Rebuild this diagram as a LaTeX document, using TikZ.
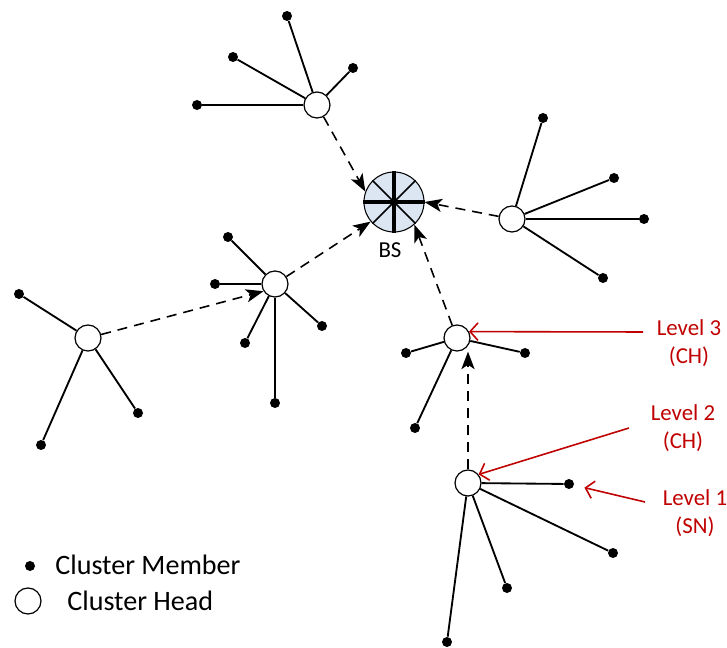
\documentclass[tikz,border=0pt]{standalone}
\usepackage{fontspec}
\setmainfont{Carlito}
\usetikzlibrary{arrows.meta}

\definecolor{bsfill}{RGB}{220,230,242}
\definecolor{lvlred}{RGB}{192,0,0}

\tikzset{
  head/.style={circle, draw, fill=white, line width=0.7pt, minimum size=0.52cm, inner sep=0pt},
  member/.style={circle, fill=black, minimum size=0.2cm, inner sep=0pt},
  link/.style={line width=1.05pt},
  hop/.style={dash pattern=on 0.2cm off 0.14cm, line width=0.9pt, -{Stealth[length=10pt,width=7.5pt,inset=2.5pt]}},
  pointer/.style={lvlred, line width=0.9pt, -{Straight Barb[length=4.5pt,width=10pt]}},
  lvltext/.style={text=lvlred, align=center, inner sep=0pt, font=\fontsize{13}{16}\selectfont},
  keytext/.style={anchor=west, inner sep=0pt, font=\fontsize{16}{19}\selectfont},
}

\begin{document}
\begin{tikzpicture}[x=0.02cm, y=-0.02cm]
    \useasboundingbox (0,0) rectangle (727,648);

    % 1. Base station
    \node[circle, draw, fill=bsfill, minimum size=1.2cm, inner sep=0pt, line width=0.6pt] (bs) at (394,202) {};
    \draw[line width=1pt] (bs.45) -- (bs.225) (bs.135) -- (bs.315);
    \draw[line width=2pt] (bs.west) -- (bs.east) (bs.north) -- (bs.south);
    \node[font=\fontsize{13}{16}\selectfont] (bslabel) at (390,250) {BS};

    % 2. Cluster heads
    \node[head] (chtop) at (317,105) {};
    \node[head] (chright) at (512,219) {};
    \node[head] (chmid) at (275,284) {};
    \node[head] (chleft) at (88,338) {};
    \node[head] (chthree) at (457,338) {};
    \node[head] (chtwo) at (468,483) {};

    % 3. Cluster members
    \foreach \p [count=\i] in {(287,16),(233,57),(353,68),(197,105)} {
        \node[member] (top\i) at \p {};
        \draw[link] (chtop) -- (top\i);
    }
    \foreach \p [count=\i] in {(543,118),(614,178),(644,219),(603,278)} {
        \node[member] (right\i) at \p {};
        \draw[link] (chright) -- (right\i);
    }
    \foreach \p [count=\i] in {(228,237),(215,284),(322,326),(245,343),(275,403)} {
        \node[member] (mid\i) at \p {};
        \draw[link] (chmid) -- (mid\i);
    }
    \foreach \p [count=\i] in {(19,294),(138,413),(41,445)} {
        \node[member] (left\i) at \p {};
        \draw[link] (chleft) -- (left\i);
    }
    \foreach \p [count=\i] in {(406,353),(525,353),(415,428)} {
        \node[member] (three\i) at \p {};
        \draw[link] (chthree) -- (three\i);
    }
    \foreach \p [count=\i] in {(569,484),(613,553),(507,588),(447,642)} {
        \node[member] (two\i) at \p {};
        \draw[link] (chtwo) -- (two\i);
    }

    % 4. Multi-hop routes to the base station
    \draw[hop] (chtop) -- (bs.160);
    \draw[hop] (chright) -- (bs.east);
    \draw[hop] (chmid) -- (bs.220);
    \draw[hop] (chthree) -- (bs.312);
    \draw[hop] (chleft) -- (chmid.212);
    \draw[hop] (chtwo) -- (chtwo |- chthree.south);

    % 5. Level labels
    \node[lvltext] (lvl3) at (689,343) {Level 3\\(CH)};
    \node[lvltext] (lvl2) at (683,428) {Level 2\\(CH)};
    \node[lvltext] (lvl1) at (695,513) {Level 1\\(SN)};
    \coordinate (tail3) at (643,332);
    \coordinate (tail2) at (629,428);
    \coordinate (tail1) at (645,502);
    \draw[pointer] (tail3) -- (chthree.28);
    \draw[pointer] (tail2) -- (chtwo.39);
    \draw[pointer, shorten >=6pt] (tail1) -- (two1);

    % 6. Legend
    \node[member] (keymember) at (30,566) {};
    \node[keytext] (keymembertext) at (55,565) {Cluster Member};
    \node[head] (keyhead) at (28,601) {};
    \node[keytext] (keyheadtext) at (67,601) {Cluster Head};
\end{tikzpicture}
\end{document}
